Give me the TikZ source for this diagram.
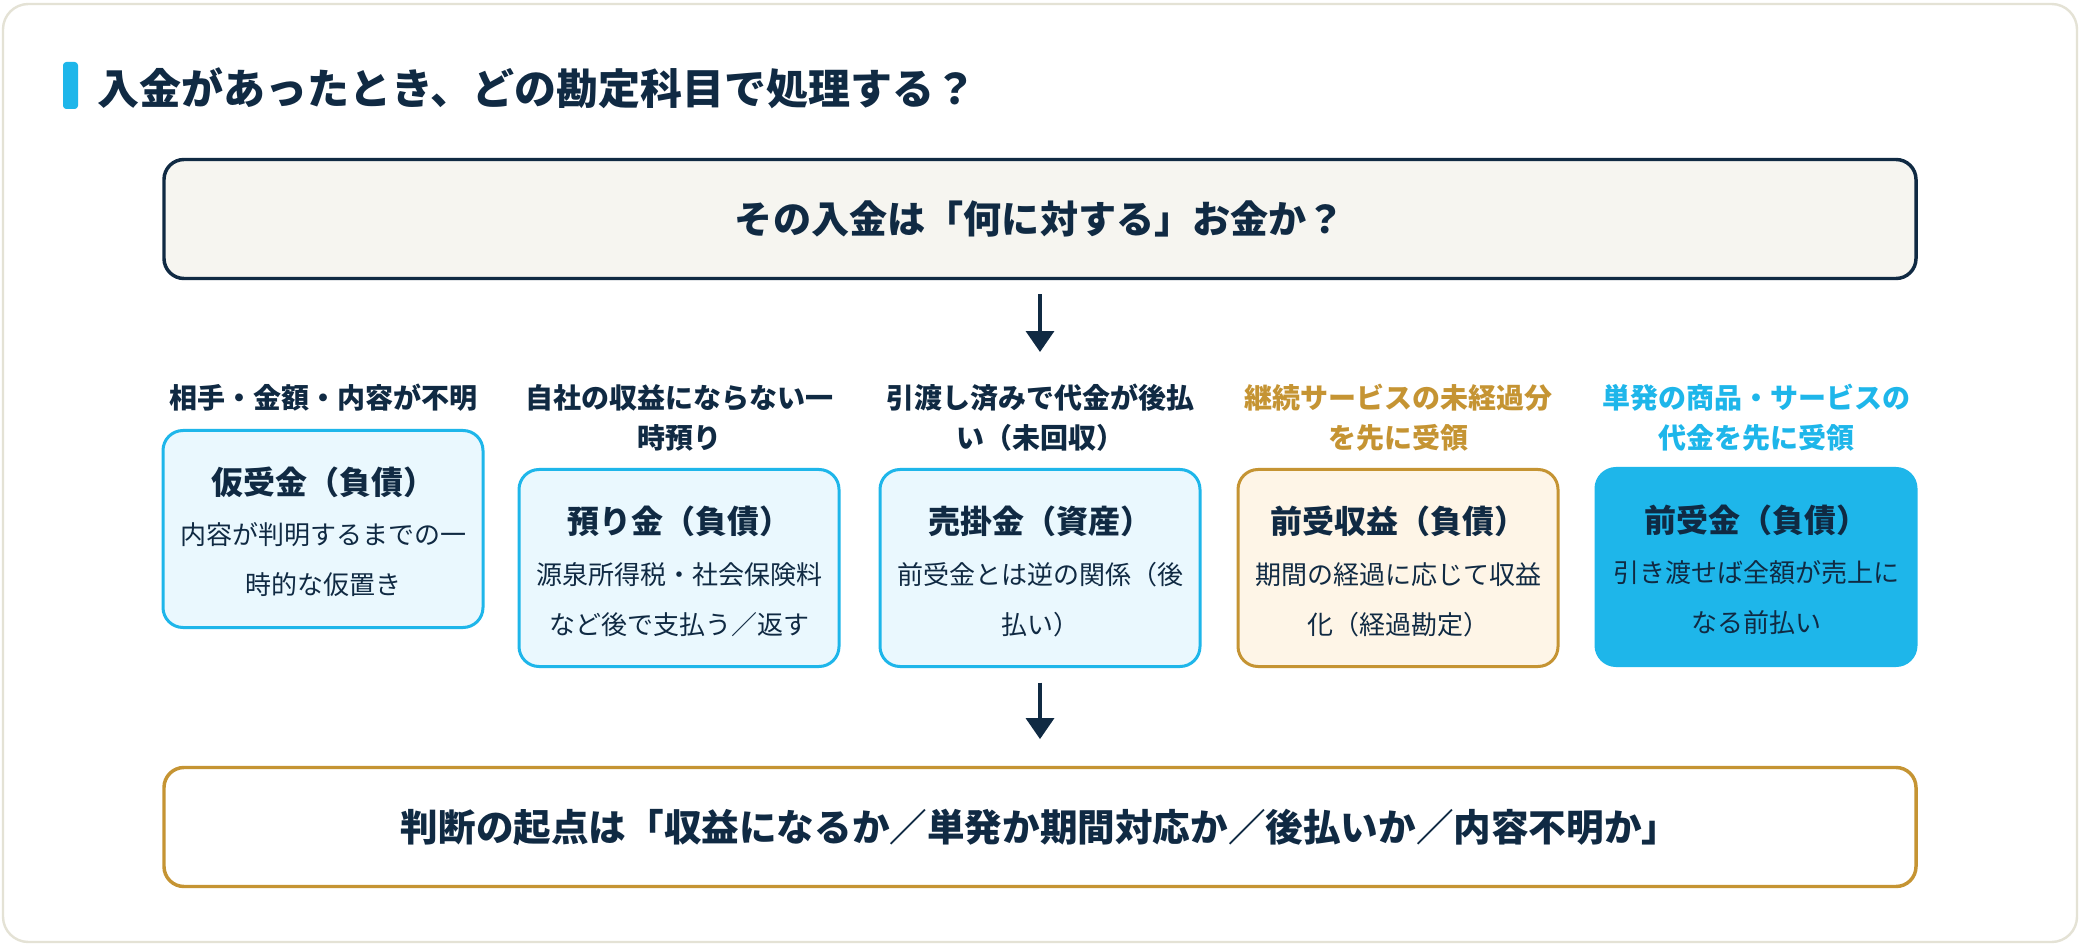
\documentclass[tikz,border=0pt]{standalone}
\usepackage{fontspec}
\setmainfont{Noto Sans CJK JP}
\usetikzlibrary{arrows.meta}

\definecolor{navy}{HTML}{102A43}
\definecolor{sky}{HTML}{1EB6EA}
\definecolor{skyfill}{HTML}{EAF8FE}
\definecolor{gold}{HTML}{C59433}
\definecolor{goldfill}{HTML}{FEF5E7}
\definecolor{paper}{HTML}{F6F5F0}
\definecolor{frame}{HTML}{E4E2D5}

\tikzset{
  card/.style={draw=sky, fill=skyfill, line width=2.25pt, rounded corners=15pt,
    minimum width=240pt, minimum height=147.75pt, inner sep=0pt},
  bigbox/.style={line width=2.6pt, rounded corners=15pt, text=navy,
    minimum width=1314pt, minimum height=89.25pt, inner sep=0pt},
  cardlabel/.style={align=center, inner sep=0pt, text=navy,
    font=\fontsize{21pt}{30pt}\selectfont\bfseries},
  cardtitle/.style={inner sep=0pt, text=navy,
    font=\fontsize{24pt}{28pt}\selectfont\bfseries},
  cardbody/.style={align=center, inner sep=0pt, text=navy,
    font=\fontsize{19.5pt}{37.5pt}\selectfont},
  flow/.style={draw=navy, line width=2.6pt,
    -{Triangle[width=21pt,length=15.75pt]}}
}

\begin{document}
\begin{tikzpicture}[x=0.75pt, y=-0.75pt]
    \useasboundingbox (0,0) rectangle (2080,944);

    % Outer frame
    \fill[white] (0,0) rectangle (2080,944);
    \draw[frame, line width=1.8pt, rounded corners=19pt] (3,4) rectangle (2077,942);

    % Heading with accent bar
    \fill[sky, rounded corners=2.5pt] (63,62) rectangle (78,109);
    \node[anchor=west, inner sep=0pt, text=navy,
          font=\fontsize{31.5pt}{36pt}\selectfont\bfseries] (head) at (97,88)
        {入金があったとき、どの勘定科目で処理する？};

    % Question box
    \node[bigbox, draw=navy, fill=paper,
          font=\fontsize{28.6pt}{33pt}\selectfont\bfseries] (ask) at (1040,219)
        {その入金は「何に対する」お金か？};

    % Labels above the cards
    \node[cardlabel] (l1) at (323,398) {相手・金額・内容が不明};
    \node[cardlabel] (l2) at (679,418) {自社の収益にならない一\\時預り};
    \node[cardlabel] (l3) at (1040,418) {引渡し済みで代金が後払\\い（未回収）};
    \node[cardlabel, text=gold] (l4) at (1398,418) {継続サービスの未経過分\\を先に受領};
    \node[cardlabel, text=sky] (l5) at (1756,418) {単発の商品・サービスの\\代金を先に受領};

    % Card 1: suspense receipt
    \node[card] (c1) at (323,529) {};
    \node[cardtitle] (t1) at (323,482) {仮受金（負債）};
    \node[cardbody] (b1) at (323,560) {内容が判明するまでの一\\時的な仮置き};

    % Card 2: deposits received
    \node[card] (c2) at (679,568) {};
    \node[cardtitle] (t2) at (679,521) {預り金（負債）};
    \node[cardbody] (b2) at (679,600) {源泉所得税・社会保険料\\など後で支払う／返す};

    % Card 3: accounts receivable
    \node[card] (c3) at (1040,568) {};
    \node[cardtitle] (t3) at (1040,521) {売掛金（資産）};
    \node[cardbody] (b3) at (1040,600) {前受金とは逆の関係（後\\払い）};

    % Card 4: unearned revenue
    \node[card, draw=gold, fill=goldfill] (c4) at (1398,568) {};
    \node[cardtitle] (t4) at (1398,521) {前受収益（負債）};
    \node[cardbody] (b4) at (1398,600) {期間の経過に応じて収益\\化（経過勘定）};

    % Card 5: advances received (highlighted)
    \node[card, draw=sky, fill=sky] (c5) at (1756,567) {};
    \node[cardtitle] (t5) at (1756,520) {前受金（負債）};
    \node[cardbody] (b5) at (1756,598) {引き渡せば全額が売上に\\なる前払い};

    % Conclusion box
    \node[bigbox, draw=gold, fill=white,
          font=\fontsize{28.2pt}{33pt}\selectfont\bfseries] (res) at (1040,827)
        {判断の起点は「収益になるか／単発か期間対応か／後払いか／内容不明か」};

    % Arrows
    \draw[flow, shorten <=10.5pt, shorten >=24pt] (ask.south) -- (l3.north);
    \draw[flow, shorten <=11pt, shorten >=20pt] (c3.south) -- (res.north);
\end{tikzpicture}
\end{document}
